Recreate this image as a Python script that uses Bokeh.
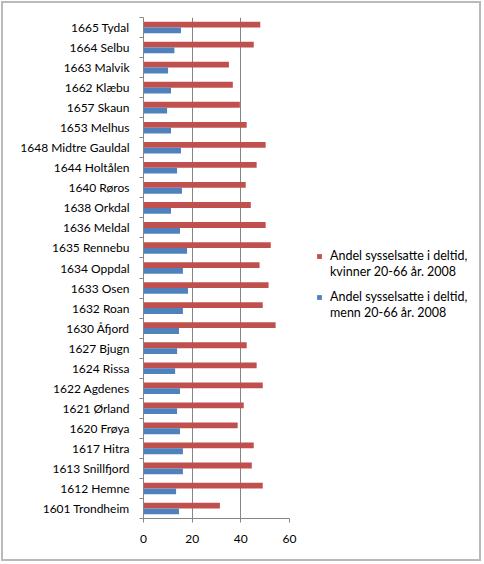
from bokeh.plotting import figure
from bokeh.layouts import row
from bokeh.models import ColumnDataSource, FixedTicker, Legend, LegendItem, Range1d
from bokeh.transform import dodge
from bokeh.embed import file_html
from bokeh.resources import INLINE

# Municipalities, listed bottom to top
kommuner = [
    "1601 Trondheim", "1612 Hemne", "1613 Snillfjord", "1617 Hitra", "1620 Frøya",
    "1621 Ørland", "1622 Agdenes", "1624 Rissa", "1627 Bjugn", "1630 Åfjord",
    "1632 Roan", "1633 Osen", "1634 Oppdal", "1635 Rennebu", "1636 Meldal",
    "1638 Orkdal", "1640 Røros", "1644 Holtålen", "1648 Midtre Gauldal", "1653 Melhus",
    "1657 Skaun", "1662 Klæbu", "1663 Malvik", "1664 Selbu", "1665 Tydal",
]
# Share employed part-time (%), 20-66 years, 2008
kvinner = [31.4, 49.0, 44.5, 45.3, 38.7, 41.2, 49.0, 46.5, 42.4, 54.3,
           49.0, 51.4, 47.7, 52.3, 50.2, 44.1, 42.0, 46.5, 50.2, 42.4,
           39.6, 36.7, 35.1, 45.3, 48.0]
menn = [14.6, 13.4, 16.2, 16.2, 15.0, 13.8, 15.0, 13.0, 13.8, 14.6,
        16.2, 18.3, 16.2, 17.9, 15.0, 11.3, 15.8, 13.8, 15.4, 11.3,
        9.7, 11.3, 10.1, 12.7, 15.4]
x_ticks = [0, 20, 40, 60]
# series names, as two lines each
label_kvinner = ("Andel sysselsatte i deltid,", "kvinner 20-66 år. 2008")
label_menn = ("Andel sysselsatte i deltid,", "menn 20-66 år. 2008")

RED = "#C0504D"
BLUE = "#4F81BD"
GRID = "#868686"
FONT = "Lato"
FS = "12px"

pos = list(range(len(kommuner)))
source = ColumnDataSource(dict(y=pos, kvinner=kvinner, menn=menn))

p = figure(
    width=300, height=556,
    x_range=Range1d(0, 60), y_range=Range1d(-0.5, len(kommuner) - 0.5),
    output_backend="svg", toolbar_location=None,
    min_border_left=140, min_border_right=14,
    min_border_top=14, min_border_bottom=41,
)
p.outline_line_color = None

p.hbar(y=dodge("y", 0.145, range=p.y_range), right="kvinner", left=0,
       height=0.29, source=source, fill_color=RED, line_color=None)
p.hbar(y=dodge("y", -0.145, range=p.y_range), right="menn", left=0,
       height=0.29, source=source, fill_color=BLUE, line_color=None)

# x axis and vertical gridlines
p.xaxis.ticker = FixedTicker(ticks=x_ticks)
p.xaxis.axis_line_color = GRID
p.xaxis.major_tick_line_color = GRID
p.xaxis.major_tick_out = 4
p.xaxis.major_tick_in = 0
p.xaxis.major_label_standoff = 12
p.xaxis.major_label_text_font = FONT
p.xaxis.major_label_text_font_size = FS
p.xaxis.major_label_text_color = "#000000"
p.xgrid.grid_line_color = GRID
p.ygrid.grid_line_color = None

# category axis: labels at centres, tick marks between categories
p.yaxis.ticker = FixedTicker(ticks=pos, minor_ticks=[i - 0.5 for i in range(len(kommuner) + 1)])
p.yaxis.major_label_overrides = {i: k for i, k in zip(pos, kommuner)}
p.yaxis.axis_line_color = GRID
p.yaxis.major_tick_line_color = None
p.yaxis.major_tick_out = 0
p.yaxis.major_tick_in = 0
p.yaxis.minor_tick_line_color = GRID
p.yaxis.minor_tick_out = 4
p.yaxis.minor_tick_in = 0
p.yaxis.major_label_standoff = 10
p.yaxis.major_label_text_font = FONT
p.yaxis.major_label_text_font_size = FS
p.yaxis.major_label_text_color = "#000000"

# legend panel to the right of the bars
q = figure(
    width=176, height=556, x_range=Range1d(0, 1), y_range=Range1d(0, 1),
    output_backend="svg", toolbar_location=None, title=None,
    x_axis_location=None, y_axis_location=None,
    min_border=0, outline_line_color=None,
)
q.grid.visible = False
# hidden copies of the series, used only for the legend keys
key_k = q.hbar(y="y", right="kvinner", height=0.29, source=source,
               fill_color=RED, line_color=None, visible=False)
key_m = q.hbar(y="y", right="menn", height=0.29, source=source,
               fill_color=BLUE, line_color=None, visible=False)

legend_style = dict(
    border_line_color=None, background_fill_alpha=0,
    label_text_font=FONT, label_text_font_size="12.5px", label_text_color="#000000",
    glyph_width=6, glyph_height=6, label_standoff=8,
    label_height=15, spacing=26, padding=0, margin=0,
)
# first line of each entry, with its colour key
legend_top = Legend(
    items=[LegendItem(label=label_kvinner[0], renderers=[key_k]),
           LegendItem(label=label_menn[0], renderers=[key_m])],
    location=(13, 214), **legend_style,
)
# second line of each entry, aligned under the first
legend_bottom = Legend(
    items=[LegendItem(label=label_kvinner[1], renderers=[]),
           LegendItem(label=label_menn[1], renderers=[])],
    location=(13, 198), **legend_style,
)
q.add_layout(legend_top)
q.add_layout(legend_bottom)

chart = row(p, q, styles={"border": "2px solid #bababa", "margin": "1px"})

open("out.html", "w").write(file_html(chart, INLINE))
